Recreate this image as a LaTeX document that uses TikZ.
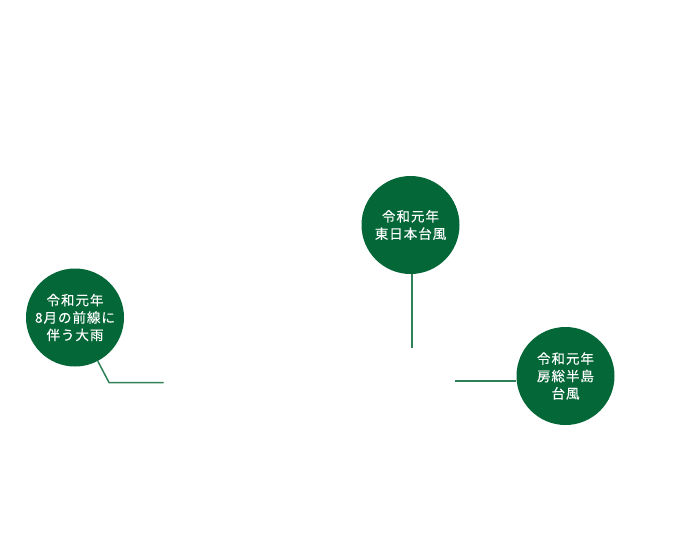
\documentclass[tikz,border=0pt]{standalone}
\usepackage{fontspec}
\usetikzlibrary{positioning}
\newfontfamily\jpfont[LetterSpace=7,FakeBold=0.25]{Noto Sans CJK JP}
\definecolor{saigai}{HTML}{046738}
\definecolor{sen}{HTML}{2F8059}
\tikzset{
    mycircle/.style={circle,fill=saigai,text=white,minimum size=1.96cm,inner sep=0pt,align=center,font=\jpfont\fontsize{7.7}{9.9}\selectfont},
    myline/.style={draw=sen,line width=0.85pt}
}
\begin{document}
\begin{tikzpicture}[node distance=3cm,on grid]
    \useasboundingbox (0,0) rectangle (14,-11.2);
    \node[mycircle] (rain) at (1.5,-6.35) {令和元年\\8月の前線に\\伴う大雨};
    \node[mycircle] (east) [above right=1.85cm and 6.71cm of rain] {令和元年\\東日本台風};
    \node[mycircle] (boso) [below right=3.02cm and 3.1cm of east] {令和元年\\房総半島\\台風};
    \coordinate (rainbend) at (2.18,-7.65);
    \coordinate[right=1.09cm of rainbend] (rainend);
    \coordinate (eastend) at (8.235,-6.96);
    \coordinate (bosoend) at (9.1,-7.62);
    \draw[myline] (rain) -- (rainbend) -- (rainend);
    \draw[myline] (east.south -| eastend) -- (eastend);
    \draw[myline] (bosoend) -- (bosoend -| boso.west);
\end{tikzpicture}
\end{document}
